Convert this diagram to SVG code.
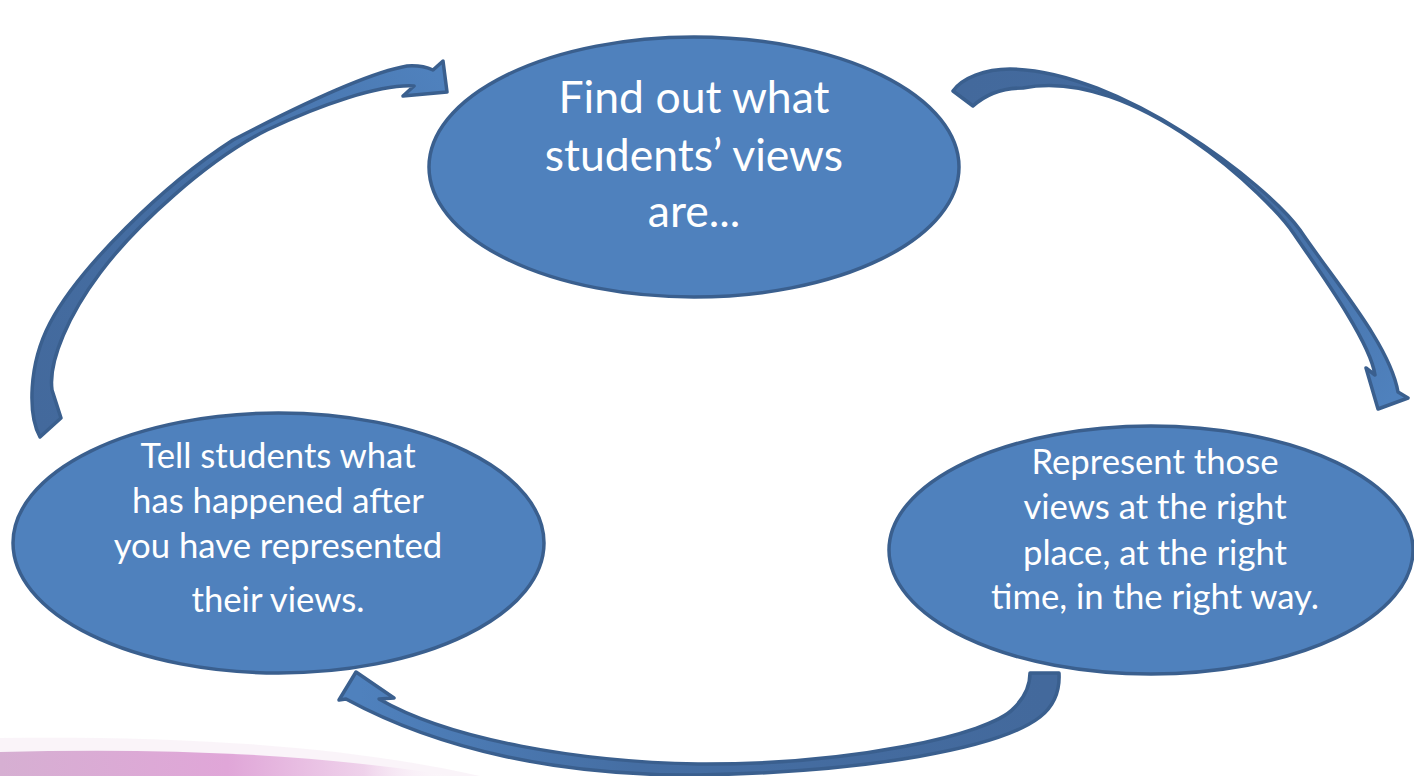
<svg xmlns="http://www.w3.org/2000/svg" width="1414" height="776" viewBox="0 0 1414 776">
<defs>
<style>
.node{fill:#4F81BD;stroke:#3A5F8E;stroke-width:3.5}
.arrow{stroke:#3A5F8E;stroke-width:3.5;stroke-linejoin:round}
.t{font-family:Lato,"Open Sans",sans-serif;fill:#ffffff;text-anchor:middle}
.big{font-size:44.5px}
.sm{font-size:34.7px}
</style>
<linearGradient id="g1" gradientUnits="userSpaceOnUse" x1="40" y1="430" x2="440" y2="80">
<stop offset="0" stop-color="#43699C"/><stop offset="0.5" stop-color="#456EA3"/><stop offset="1" stop-color="#4F81BD"/>
</linearGradient>
<linearGradient id="g2" gradientUnits="userSpaceOnUse" x1="960" y1="95" x2="1390" y2="400">
<stop offset="0" stop-color="#43699C"/><stop offset="0.6" stop-color="#456EA3"/><stop offset="1" stop-color="#4F81BD"/>
</linearGradient>
<linearGradient id="g3" gradientUnits="userSpaceOnUse" x1="1045" y1="680" x2="360" y2="690">
<stop offset="0" stop-color="#43699C"/><stop offset="0.6" stop-color="#456EA3"/><stop offset="1" stop-color="#4F81BD"/>
</linearGradient>
<linearGradient id="pink" x1="0" y1="0" x2="1" y2="0">
<stop offset="0" stop-color="#D6AFD2"/><stop offset="0.5" stop-color="#E0A6D8"/><stop offset="0.8" stop-color="#EFD2EB"/><stop offset="1" stop-color="#FFFFFF" stop-opacity="0"/>
</linearGradient>
</defs>
<rect width="1414" height="776" fill="#FFFFFF"/>
<path d="M0,738 C150,736 330,742 480,776 L0,776 Z" fill="#F8F0F6" opacity="0.7"/>
<path d="M0,752 C150,748 300,752 455,776 L0,776 Z" fill="url(#pink)"/>
<g id="connectors">
<path id="arrow-left" class="arrow" fill="url(#g1)" d="M40,437 C28,415 28,365 50,323 C79,268 163,185 233,140 C300,105 367,73 407,66 Q422,65 433,70 L443,61 L447,92 L403,96 L414,86 C380,84 320,105 267,130 C207,160 135,226 100,273 C70,313 48,360 52,390 L61,418 Z"/>
<path id="arrow-right" class="arrow" fill="url(#g2)" d="M953,91 C962,78 985,69 1010,69 C1120,70 1268,185 1300,230 C1335,282 1390,345 1398,392 L1408,398 L1378,409 L1366,368 L1375,375 C1370,340 1313.6,263 1294,234 C1270,198 1135,66 1023,88 C1000,88 985,95 973,106 Z"/>
<path id="arrow-bottom" class="arrow" fill="url(#g3)" d="M1059,673 C1060,690 1055,705 1040,717 C1000,748 870,772 698,775 C560,776 440,750 346,699 L339,700 L356,672 L394,698 L379,699 C450,740 580,762 698,764 C850,765 990,735 1014,708 C1025,697 1030,685 1030,673 Z"/>
</g>
<g id="node-top">
<ellipse class="node" cx="694" cy="167" rx="265" ry="130"/>
<text class="t big" x="694" y="113">Find out what</text>
<text class="t big" x="694" y="171">students’ views</text>
<text class="t big" x="694" y="227">are...</text>
</g>
<g id="node-left">
<ellipse class="node" cx="278.5" cy="543" rx="265.5" ry="130"/>
<text class="t sm" x="278" y="468">Tell students what</text>
<text class="t sm" x="278" y="513">has happened after</text>
<text class="t sm" x="278" y="558">you have represented</text>
<text class="t sm" x="278" y="612">their views.</text>
</g>
<g id="node-right">
<ellipse class="node" cx="1151" cy="550" rx="262" ry="124"/>
<text class="t sm" x="1155" y="474">Represent those</text>
<text class="t sm" x="1155" y="519">views at the right</text>
<text class="t sm" x="1155" y="565">place, at the right</text>
<text class="t sm" x="1155" y="609">time, in the right way.</text>
</g>
</svg>
